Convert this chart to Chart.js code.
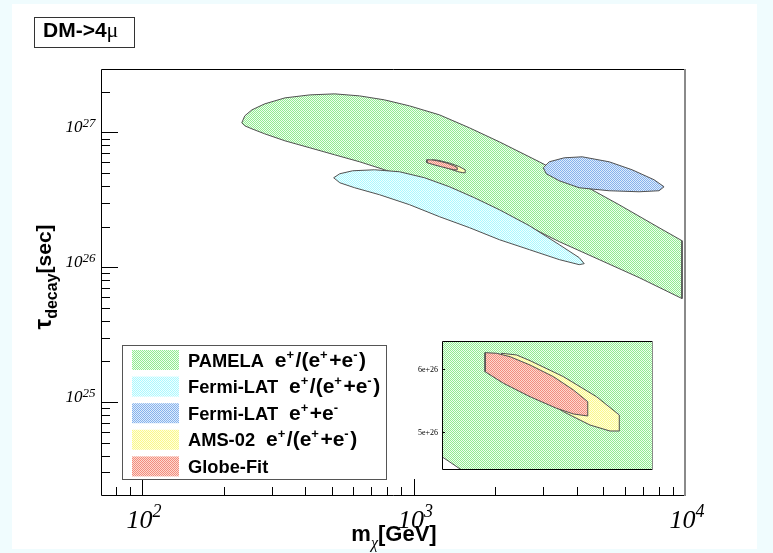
<!DOCTYPE html>
<html>
<head>
<meta charset="utf-8">
<script src="https://cdn.jsdelivr.net/npm/chart.js"></script>
<style>
  html, body { margin: 0; padding: 0; }
  body { width: 773px; height: 553px; background: #f0fcfe; position: relative; overflow: hidden; }
  #pad { position: absolute; left: 12px; top: 4px; width: 745px; height: 545px; background: #fff; }
  #main { position: absolute; left: 0; top: 0; }
  #inset { position: absolute; left: 400px; top: 330px; }
</style>
</head>
<body>
<div id="pad"></div>
<canvas id="main" width="773" height="553"></canvas>
<canvas id="inset" width="270" height="155"></canvas>
<script>
const SANS = '"Liberation Sans", Arial, Helvetica, sans-serif';
const SERIF = '"Liberation Serif", "Times New Roman", serif';

// axis ranges and tick values
const xRange = [70.6, 10000];
const yRange = [2.04e24, 2.95e27];
const xMajorTicks = [100, 1000, 10000];
const yMajorTicks = [1e25, 1e26, 1e27];
const insetXRange = [982, 1658];
const insetYRange = [4.413e26, 6.444e26];
const insetTicks = [5e26, 6e26];
const insetTickLabels = ['5e+26', '6e+26'];

const seriesLabels = ['PAMELA e⁺/(e⁺+e⁻)', 'Fermi-LAT e⁺/(e⁺+e⁻)', 'Fermi-LAT e⁺+e⁻', 'AMS-02 e⁺/(e⁺+e⁻)', 'Globe-Fit'];

// contours: mass [GeV], lifetime [s]
const pamelaMass = [233, 239, 254, 283, 336, 415, 512, 633, 782, 967, 1246, 1607, 2071, 2906, 4077, 5720, 8024, 9750,
  9750, 6775, 4829, 3442, 2453, 1748, 1356, 1052, 782, 633, 512, 415, 336, 283, 254, 239, 233];
const pamelaTau = [1.176e27, 1.325e27, 1.468e27, 1.626e27, 1.801e27, 1.896e27, 1.929e27, 1.864e27, 1.741e27, 1.571e27,
  1.348e27, 1.080e27, 8.505e26, 6.046e26, 4.226e26, 2.904e26, 1.962e26, 1.571e26,
  5.846e25, 8.36e25, 1.137e26, 1.545e26, 2.173e26, 2.953e26, 3.623e26, 4.373e26,
  5.275e26, 6.046e26, 6.812e26, 7.677e26, 8.651e26, 9.747e26, 1.061e27, 1.117e27, 1.176e27];

const fermiPosMass = [508, 535, 597, 719, 888, 1098, 1356, 1676, 2071, 2670, 3442, 4077, 4254,
  4077, 3442, 2670, 2071, 1607, 1246, 967, 750, 607, 535, 508];
const fermiPosTau = [4.603e26, 4.928e26, 5.186e26, 5.275e26, 5.098e26, 4.603e26, 3.947e26, 3.271e26, 2.666e26, 2.030e26, 1.468e26, 1.176e26, 1.061e26,
  1.043e26, 1.137e26, 1.348e26, 1.598e26, 1.962e26, 2.366e26, 2.904e26, 3.443e26, 3.880e26, 4.226e26, 4.603e26];

const fermiSumMass = [3006, 3162, 3591, 4182, 5254, 6384, 7691, 8373, 8024, 6775, 5254, 4077, 3442, 3083, 3006];
const fermiSumTau = [5.458e26, 6.046e26, 6.473e26, 6.584e26, 6.046e26, 5.275e26, 4.449e26, 3.947e26, 3.686e26, 3.623e26, 3.686e26, 3.880e26, 4.373e26, 4.928e26, 5.458e26];

const amsMass = [1173, 1173, 1264, 1371, 1456, 1520, 1550, 1550, 1477, 1371, 1264, 1221, 1173];
const amsTau = [6.249e26, 5.957e26, 5.667e26, 5.322e26, 5.111e26, 5.016e26, 5.016e26, 5.270e26, 5.560e26, 5.878e26, 6.132e26, 6.222e26, 6.249e26];

const globeMass = [1120, 1120, 1179, 1264, 1349, 1403, 1449, 1449, 1403, 1339, 1264, 1200, 1157, 1120];
const globeTau = [6.259e26, 5.957e26, 5.773e26, 5.560e26, 5.376e26, 5.286e26, 5.254e26, 5.481e26, 5.667e26, 5.878e26, 6.063e26, 6.195e26, 6.249e26, 6.259e26];

const fillPairs = [
  ['rgb(146,234,146)', 'rgb(238,255,238)'],
  ['rgb(172,248,255)', 'rgb(240,255,255)'],
  ['rgb(135,178,236)', 'rgb(222,236,252)'],
  ['rgb(250,248,140)', 'rgb(255,255,222)'],
  ['rgb(240,142,128)', 'rgb(255,216,206)']
];

function pts(xs, ys) { return xs.map((x, i) => ({x: x, y: ys[i]})); }

function dotPattern(ctx, pair) {
  const c = document.createElement('canvas');
  c.width = 2; c.height = 2;
  const g = c.getContext('2d');
  g.fillStyle = pair[1]; g.fillRect(0, 0, 2, 2);
  g.fillStyle = pair[0]; g.fillRect(0, 0, 1, 1); g.fillRect(1, 1, 1, 1);
  return ctx.createPattern(c, 'repeat');
}

function minorTicks(min, max) {
  const out = [];
  for (let e = Math.floor(Math.log10(min)); e <= Math.ceil(Math.log10(max)); e++) {
    for (let k = 2; k <= 9; k++) {
      const v = k * Math.pow(10, e);
      if (v > min && v < max) out.push(v);
    }
  }
  return out;
}

// draw a run of text pieces (for super/subscripts)
function partsWidth(ctx, parts) {
  let w = 0;
  parts.forEach(p => { ctx.font = p.f; w += ctx.measureText(p.t).width + (p.pad || 0); });
  return w;
}
function drawParts(ctx, parts, x, y) {
  let cx = x;
  parts.forEach(p => { ctx.font = p.f; ctx.fillText(p.t, cx, y + (p.dy || 0)); cx += ctx.measureText(p.t).width + (p.pad || 0); });
}
// legend label: name in one size, the e+/e- part a bit larger, like TLatex does it
function labelParts(label) {
  const cut = label.indexOf(' ');
  const parts = [{t: cut < 0 ? label : label.slice(0, cut), f: `bold 18.3px ${SANS}`, pad: 11}];
  if (cut < 0) return parts;
  for (const ch of label.slice(cut + 1)) {
    if (ch === '⁺' || ch === '⁻') parts.push({t: ch === '⁺' ? '+' : '-', f: `bold 13px ${SANS}`, dy: -8, pad: 1.5});
    else parts.push({t: ch, f: `bold 21px ${SANS}`});
  }
  return parts;
}

function contour(label, xs, ys, pattern, order) {
  return {
    label: label, data: pts(xs, ys), fill: 'shape', backgroundColor: pattern,
    borderColor: '#505050', borderWidth: 1, pointRadius: 0, tension: 0, order: order
  };
}

const rootPad = {
  id: 'rootPad',
  afterDraw(chart) {
    const {ctx, chartArea: a} = chart;
    const xs = chart.scales.x, ys = chart.scales.y;
    ctx.save();
    ctx.strokeStyle = '#000';
    ctx.lineWidth = 1;
    ctx.beginPath();
    ctx.moveTo(a.left + 0.5, a.top + 0.5); ctx.lineTo(a.right, a.top + 0.5);
    ctx.moveTo(a.left + 0.5, a.top + 0.5); ctx.lineTo(a.left + 0.5, a.bottom + 0.5); ctx.lineTo(a.right, a.bottom + 0.5);
    minorTicks(xRange[0], xRange[1]).forEach(v => {
      const p = Math.round(xs.getPixelForValue(v)) + 0.5;
      ctx.moveTo(p, a.bottom); ctx.lineTo(p, a.bottom - 8);
    });
    xMajorTicks.forEach(v => {
      const p = Math.round(xs.getPixelForValue(v)) + 0.5;
      ctx.moveTo(p, a.bottom); ctx.lineTo(p, a.bottom - 16);
    });
    minorTicks(yRange[0], yRange[1]).forEach(v => {
      const p = Math.round(ys.getPixelForValue(v)) + 0.5;
      ctx.moveTo(a.left, p); ctx.lineTo(a.left + 9, p);
    });
    yMajorTicks.forEach(v => {
      const p = Math.round(ys.getPixelForValue(v)) + 0.5;
      ctx.moveTo(a.left, p); ctx.lineTo(a.left + 17, p);
    });
    ctx.stroke();
    ctx.strokeStyle = '#8a8a8a';
    ctx.lineWidth = 2;
    ctx.beginPath(); ctx.moveTo(a.right, a.top); ctx.lineTo(a.right, a.bottom + 1); ctx.stroke();

    // tick labels
    ctx.fillStyle = '#000';
    ctx.textBaseline = 'alphabetic';
    xMajorTicks.forEach(v => {
      const parts = [{t: '10', f: `italic 26px ${SERIF}`}, {t: String(Math.round(Math.log10(v))), f: `italic 18px ${SERIF}`, dy: -11}];
      const w = partsWidth(ctx, parts);
      drawParts(ctx, parts, xs.getPixelForValue(v) - w / 2 + 2, 528);
    });
    yMajorTicks.forEach(v => {
      const parts = [{t: '10', f: `italic 17px ${SERIF}`}, {t: String(Math.round(Math.log10(v))), f: `italic 13px ${SERIF}`, dy: -5}];
      const w = partsWidth(ctx, parts);
      drawParts(ctx, parts, 95.5 - w, ys.getPixelForValue(v));
    });

    // axis titles
    const xt = [{t: 'm', f: `bold 22px ${SANS}`}, {t: 'χ', f: `italic 16px ${SERIF}`, dy: 7}, {t: '[GeV]', f: `bold 22px ${SANS}`}];
    drawParts(ctx, xt, 394 - partsWidth(ctx, xt) / 2, 541);
    const yt = [{t: 'τ', f: `bold 24px ${SANS}`}, {t: 'decay', f: `bold 16px ${SANS}`, dy: 6}, {t: '[sec]', f: `bold 21px ${SANS}`}];
    ctx.save();
    ctx.translate(51, 277);
    ctx.rotate(-Math.PI / 2);
    drawParts(ctx, yt, -partsWidth(ctx, yt) / 2, 0);
    ctx.restore();

    // title box
    ctx.lineWidth = 1;
    ctx.strokeStyle = '#333';
    ctx.strokeRect(34.5, 17.5, 100, 30);
    drawParts(ctx, [{t: 'DM->4', f: `bold 21px ${SANS}`}, {t: 'μ', f: `22px ${SERIF}`}], 43, 37);

    // legend
    ctx.fillStyle = '#fff';
    ctx.fillRect(123, 346, 263, 133);
    ctx.strokeStyle = '#555';
    ctx.strokeRect(122.5, 345.5, 264, 134);
    chart.data.datasets.forEach((ds, i) => {
      const top = 350 + i * 26.6;
      ctx.fillStyle = ds.backgroundColor;
      ctx.fillRect(132, top, 47, 20);
      ctx.fillStyle = '#000';
      drawParts(ctx, labelParts(ds.label), 188, top + 16.5);
    });
    ctx.restore();
  }
};

const mainCtx = document.getElementById('main').getContext('2d');
new Chart(mainCtx, {
  type: 'line',
  data: {
    datasets: [
      contour(seriesLabels[0], pamelaMass, pamelaTau, dotPattern(mainCtx, fillPairs[0]), 5),
      contour(seriesLabels[1], fermiPosMass, fermiPosTau, dotPattern(mainCtx, fillPairs[1]), 4),
      contour(seriesLabels[2], fermiSumMass, fermiSumTau, dotPattern(mainCtx, fillPairs[2]), 3),
      contour(seriesLabels[3], amsMass, amsTau, dotPattern(mainCtx, fillPairs[3]), 2),
      contour(seriesLabels[4], globeMass, globeTau, dotPattern(mainCtx, fillPairs[4]), 1)
    ]
  },
  options: {
    responsive: false,
    devicePixelRatio: 1,
    animation: false,
    events: [],
    layout: {padding: {left: 101, top: 69, right: 88, bottom: 58}},
    scales: {
      x: {type: 'logarithmic', min: xRange[0], max: xRange[1], display: false},
      y: {type: 'logarithmic', min: yRange[0], max: yRange[1], display: false}
    },
    plugins: {legend: {display: false}, tooltip: {enabled: false}}
  },
  plugins: [rootPad]
});

// zoomed inset
const insetFrame = {
  id: 'insetFrame',
  afterDraw(chart) {
    const {ctx, chartArea: a} = chart;
    const ys = chart.scales.y;
    ctx.save();
    ctx.lineWidth = 1;
    ctx.strokeStyle = '#000';
    ctx.beginPath();
    ctx.moveTo(a.left + 0.5, a.top + 0.5); ctx.lineTo(a.right, a.top + 0.5);
    ctx.moveTo(a.left + 0.5, a.top + 0.5); ctx.lineTo(a.left + 0.5, a.bottom + 0.5); ctx.lineTo(a.right, a.bottom + 0.5);
    insetTicks.forEach(v => {
      const p = Math.round(ys.getPixelForValue(v)) + 0.5;
      ctx.moveTo(a.left, p); ctx.lineTo(a.left + 3, p);
    });
    ctx.stroke();
    ctx.strokeStyle = '#8a8a8a';
    ctx.beginPath(); ctx.moveTo(a.right - 0.5, a.top); ctx.lineTo(a.right - 0.5, a.bottom + 1); ctx.stroke();
    ctx.fillStyle = '#000';
    ctx.font = `8px ${SERIF}`;
    ctx.textAlign = 'right';
    insetTicks.forEach((v, i) => ctx.fillText(insetTickLabels[i], a.left - 4, ys.getPixelForValue(v) + 3));
    ctx.restore();
  }
};

const insetCtx = document.getElementById('inset').getContext('2d');
new Chart(insetCtx, {
  type: 'line',
  data: {
    datasets: [
      contour(seriesLabels[0], pamelaMass, pamelaTau, dotPattern(insetCtx, fillPairs[0]), 3),
      contour(seriesLabels[3], amsMass, amsTau, dotPattern(insetCtx, fillPairs[3]), 2),
      contour(seriesLabels[4], globeMass, globeTau, dotPattern(insetCtx, fillPairs[4]), 1)
    ]
  },
  options: {
    responsive: false,
    devicePixelRatio: 1,
    animation: false,
    events: [],
    layout: {padding: {left: 42, top: 11, right: 17, bottom: 16}},
    scales: {
      x: {type: 'linear', min: insetXRange[0], max: insetXRange[1], display: false},
      y: {type: 'linear', min: insetYRange[0], max: insetYRange[1], display: false}
    },
    plugins: {legend: {display: false}, tooltip: {enabled: false}}
  },
  plugins: [insetFrame]
});
</script>
</body>
</html>
